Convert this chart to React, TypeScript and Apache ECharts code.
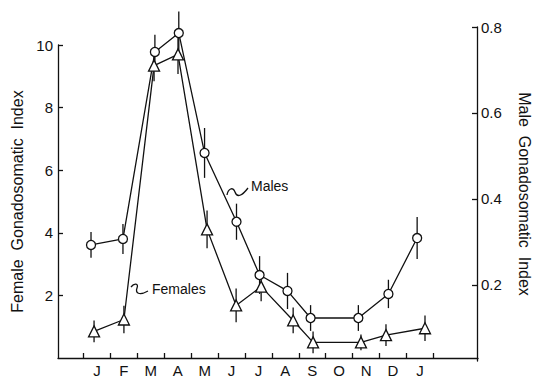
import React, { useEffect, useRef } from "react";
import * as echarts from "echarts";

// ---- data ----
const months = ["J", "F", "M", "A", "M", "J", "J", "A", "S", "O", "N", "D", "J"];
const leftTicks = [2, 4, 6, 8, 10];
const rightTicks = [0.2, 0.4, 0.6, 0.8];

// month position (0 = first J), value, error half-width
const malePos = [-0.22, 0.97, 2.16, 3.05, 4.01, 5.2, 6.06, 7.1, 7.96, 9.74, 10.86, 11.93];
const maleGSI = [0.293, 0.307, 0.742, 0.786, 0.507, 0.347, 0.223, 0.186, 0.123, 0.123, 0.179, 0.309];
const maleErr = [0.03, 0.035, 0.04, 0.05, 0.058, 0.042, 0.044, 0.042, 0.03, 0.03, 0.033, 0.049];

const femalePos = [-0.11, 1.0, 2.12, 3.01, 4.09, 5.17, 6.1, 7.29, 8.03, 9.81, 10.74, 12.19];
const femaleGSI = [0.85, 1.23, 9.34, 9.7, 4.11, 1.68, 2.28, 1.2, 0.5, 0.5, 0.73, 0.95];
const femaleErr = [0.35, 0.44, 0.5, 0.63, 0.6, 0.54, 0.47, 0.41, 0.35, 0.25, 0.35, 0.41];

const X_MIN = -1.45;
const X_MAX = 14.16;

const FONT = "Liberation Sans";
const INK = "#111";

const squigglePath = "M0,4 C3,0 8,0 6,5 C4,10 8,13 17,8";
const squigglePath2 = "M0,9 C1,3 6,0 8,6 C10,12 15,10 21,2";

let registered = false;
function registerShapes() {
  if (registered) return;
  registered = true;
  echarts.graphic.registerShape("squiggleA", echarts.graphic.extendPath(squigglePath, {}));
  echarts.graphic.registerShape("squiggleB", echarts.graphic.extendPath(squigglePath2, {}));
}

function errRender(params: any, api: any) {
  const x = api.value(0);
  const y = api.value(1);
  const e = api.value(2);
  const top = api.coord([x, y + e]);
  const bot = api.coord([x, y - e]);
  return {
    type: "line",
    shape: { x1: top[0], y1: top[1], x2: bot[0], y2: bot[1] },
    style: { stroke: INK, lineWidth: 1.3 },
  };
}

export default function App() {
  const ref = useRef<HTMLDivElement>(null);
  useEffect(() => {
    if (!ref.current) return;
    registerShapes();
    const chart = echarts.init(ref.current, null, { renderer: "svg" });
    const labelStyle = { color: INK, fontSize: 15, fontFamily: FONT };
    const lineStyle = { color: INK, width: 1.3 };
    const femaleData = femalePos.map((x, i) => [x, femaleGSI[i]]);
    const femaleErrData = femalePos.map((x, i) => [x, femaleGSI[i], femaleErr[i]]);
    const maleData = malePos.map((x, i) => [x, maleGSI[i]]);
    const maleErrData = malePos.map((x, i) => [x, maleGSI[i], maleErr[i]]);
    const xTicks = months.map((_, i) => i - 0.5).concat([months.length - 0.5]);

    chart.setOption({
      animation: false,
      backgroundColor: "#fff",
      textStyle: { fontFamily: FONT },
      grid: [
        { left: 58, right: 62, top: 45, bottom: 17 },
        { left: 58, right: 62, top: 27, bottom: 17 },
      ],
      xAxis: [
        {
          gridIndex: 0,
          type: "value",
          min: X_MIN,
          max: X_MAX,
          axisLine: { show: true, onZero: false, lineStyle },
          axisTick: { show: true, inside: true, length: 5, customValues: xTicks, lineStyle },
          axisLabel: {
            ...labelStyle,
            margin: 5,
            customValues: months.map((_, i) => i),
            formatter: (v: number) => months[Math.round(v)] ?? "",
          },
          splitLine: { show: false },
        },
        { gridIndex: 1, type: "value", min: X_MIN, max: X_MAX, show: false },
      ],
      yAxis: [
        {
          gridIndex: 0,
          type: "value",
          position: "left",
          min: 0,
          max: 10,
          axisLine: { show: true, onZero: false, lineStyle },
          axisTick: { show: true, inside: true, length: 5, customValues: leftTicks, lineStyle },
          axisLabel: { ...labelStyle, margin: 5, customValues: leftTicks },
          splitLine: { show: false },
          name: "Female  Gonadosomatic  Index",
          nameLocation: "middle",
          nameRotate: 90,
          nameGap: 33,
          nameTextStyle: { color: INK, fontSize: 16, fontFamily: FONT },
        },
        {
          gridIndex: 1,
          type: "value",
          position: "right",
          min: 0.023,
          max: 0.8,
          axisLine: { show: true, onZero: false, lineStyle },
          axisTick: { show: true, inside: true, length: 5, customValues: rightTicks, lineStyle },
          axisLabel: {
            ...labelStyle,
            margin: 4,
            customValues: rightTicks,
            formatter: (v: number) => v.toFixed(1),
          },
          splitLine: { show: false },
          name: "Male  Gonadosomatic  Index",
          nameLocation: "middle",
          nameRotate: -90,
          nameGap: 39,
          nameTextStyle: { color: INK, fontSize: 16, fontFamily: FONT },
        },
      ],
      series: [
        {
          name: "Females err",
          type: "custom",
          xAxisIndex: 0,
          yAxisIndex: 0,
          renderItem: errRender,
          data: femaleErrData,
          encode: { x: 0, y: 1 },
          z: 1,
        },
        {
          name: "Females",
          type: "line",
          xAxisIndex: 0,
          yAxisIndex: 0,
          data: femaleData,
          symbol: "triangle",
          symbolSize: 11,
          lineStyle: { color: INK, width: 1.3 },
          itemStyle: { color: "#fff", borderColor: INK, borderWidth: 1.3 },
          z: 3,
        },
        {
          name: "Males err",
          type: "custom",
          xAxisIndex: 1,
          yAxisIndex: 1,
          renderItem: errRender,
          data: maleErrData,
          encode: { x: 0, y: 1 },
          z: 1,
        },
        {
          name: "Males",
          type: "line",
          xAxisIndex: 1,
          yAxisIndex: 1,
          data: maleData,
          symbol: "circle",
          symbolSize: 9,
          lineStyle: { color: INK, width: 1.3 },
          itemStyle: { color: "#fff", borderColor: INK, borderWidth: 1.3 },
          z: 3,
        },
      ],
      graphic: [
        {
          type: "text",
          left: 251,
          top: 179,
          style: { text: "Males", fill: INK, fontSize: 14, fontFamily: FONT },
        },
        {
          type: "squiggleB",
          x: 227,
          y: 186,
          style: { stroke: INK, fill: "none", lineWidth: 1.3 },
        },
        {
          type: "text",
          left: 152,
          top: 282,
          style: { text: "Females", fill: INK, fontSize: 14, fontFamily: FONT },
        },
        {
          type: "squiggleA",
          x: 131,
          y: 283,
          style: { stroke: INK, fill: "none", lineWidth: 1.3 },
        },
      ],
    });
    return () => chart.dispose();
  }, []);
  return (
    <div
      ref={ref}
      style={{ position: "fixed", left: 0, top: 0, width: 540, height: 378, background: "#fff" }}
    />
  );
}
